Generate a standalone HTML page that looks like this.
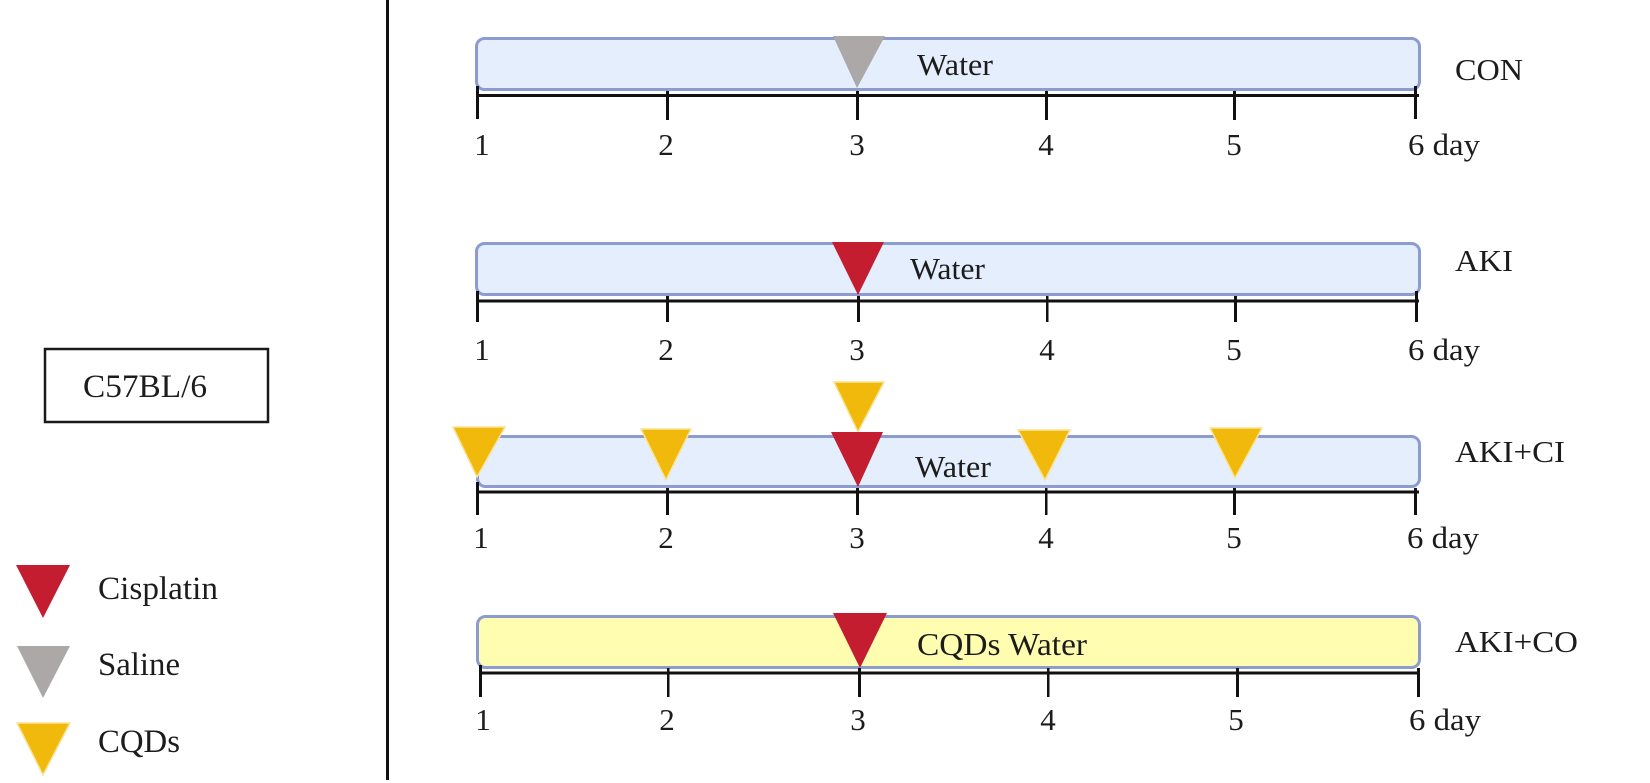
<!DOCTYPE html>
<html>
<head>
<meta charset="utf-8">
<style>
  html,body{margin:0;padding:0;background:#fff;}
  svg{display:block;}
  text{font-family:"Liberation Serif","Times New Roman",serif;fill:#1c1c1c;}
</style>
</head>
<body>
<svg width="1650" height="783" viewBox="0 0 1650 783" xmlns="http://www.w3.org/2000/svg">
  <!-- divider -->
  <rect x="386" y="0" width="3" height="780" fill="#111"/>

  <!-- C57BL/6 box -->
  <rect x="45" y="349" width="223" height="73" fill="#fff" stroke="#1a1a1a" stroke-width="2.5"/>
  <text x="83" y="397" font-size="33" textLength="124" lengthAdjust="spacingAndGlyphs">C57BL/6</text>

  <!-- Legend -->
  <polygon points="16,565 70,565 43,618" fill="#c41d30"/>
  <text x="98" y="599" font-size="33" textLength="120" lengthAdjust="spacingAndGlyphs">Cisplatin</text>
  <polygon points="17,646 70,646 43,698" fill="#aba8a7"/>
  <text x="98" y="675" font-size="33" textLength="82" lengthAdjust="spacingAndGlyphs">Saline</text>
  <polygon points="17,723 70,723 43,775" fill="#f0b90b" stroke="#f9e394" stroke-width="1.5"/>
  <text x="98" y="752" font-size="33" textLength="82" lengthAdjust="spacingAndGlyphs">CQDs</text>

  <!-- ROW 1: CON -->
  <rect x="476.5" y="38.5" width="943" height="51" rx="8" fill="#e4eefc" stroke="#8c9bd0" stroke-width="3"/>
  <rect x="476" y="94" width="943" height="3" fill="#111"/>
  <g fill="#111">
    <rect x="476" y="86" width="3" height="33"/>
    <rect x="666" y="91" width="3" height="29"/>
    <rect x="856" y="91" width="3" height="29"/>
    <rect x="1045" y="91" width="3" height="29"/>
    <rect x="1233" y="91" width="3" height="29"/>
    <rect x="1414" y="86" width="3" height="33"/>
  </g>
  <polygon points="833,36 885,36 857,88" fill="#aba8a7"/>
  <text x="917" y="75" font-size="31" textLength="76" lengthAdjust="spacingAndGlyphs">Water</text>
  <g font-size="31" text-anchor="middle">
    <text x="482" y="155">1</text>
    <text x="666" y="155">2</text>
    <text x="857" y="155">3</text>
    <text x="1046" y="155">4</text>
    <text x="1234" y="155">5</text>
  </g>
  <text x="1408" y="155" font-size="31" textLength="72" lengthAdjust="spacingAndGlyphs">6 day</text>
  <text x="1455" y="80" font-size="31" textLength="68" lengthAdjust="spacingAndGlyphs">CON</text>

  <!-- ROW 2: AKI -->
  <rect x="476.5" y="243.5" width="943" height="51" rx="8" fill="#e4eefc" stroke="#8c9bd0" stroke-width="3"/>
  <rect x="476" y="299.5" width="943" height="3" fill="#111"/>
  <g fill="#111">
    <rect x="476" y="291" width="3" height="31"/>
    <rect x="666" y="296" width="3" height="26"/>
    <rect x="857" y="296" width="3" height="26"/>
    <rect x="1046" y="296" width="2.5" height="26"/>
    <rect x="1234" y="296" width="3" height="26"/>
    <rect x="1415" y="291" width="3" height="31"/>
  </g>
  <polygon points="832,242 884,242 858,295" fill="#c41d30"/>
  <text x="910" y="279" font-size="31" textLength="75" lengthAdjust="spacingAndGlyphs">Water</text>
  <g font-size="31" text-anchor="middle">
    <text x="482" y="360">1</text>
    <text x="666" y="360">2</text>
    <text x="857" y="360">3</text>
    <text x="1047" y="360">4</text>
    <text x="1234" y="360">5</text>
  </g>
  <text x="1408" y="360" font-size="31" textLength="72" lengthAdjust="spacingAndGlyphs">6 day</text>
  <text x="1455" y="271" font-size="31" textLength="58" lengthAdjust="spacingAndGlyphs">AKI</text>

  <!-- ROW 3: AKI+CI -->
  <rect x="477.5" y="436.5" width="942" height="50" rx="8" fill="#e4eefc" stroke="#8c9bd0" stroke-width="3"/>
  <rect x="476" y="490.5" width="943" height="3" fill="#111"/>
  <g fill="#111">
    <rect x="476" y="482" width="3" height="33"/>
    <rect x="666" y="488" width="3" height="27"/>
    <rect x="856" y="488" width="3" height="27"/>
    <rect x="1045" y="488" width="2.5" height="27"/>
    <rect x="1233" y="488" width="3" height="27"/>
    <rect x="1414" y="488" width="3" height="27"/>
  </g>
  <text x="915" y="477" font-size="31" textLength="76" lengthAdjust="spacingAndGlyphs">Water</text>
  <polygon points="453,427 505,427 477,477" fill="#f0b90b" stroke="#f9e394" stroke-width="1.5"/>
  <polygon points="641,429 691,429 666,480" fill="#f0b90b" stroke="#f9e394" stroke-width="1.5"/>
  <polygon points="834,382 884,382 858,432" fill="#f0b90b" stroke="#f9e394" stroke-width="1.5"/>
  <polygon points="831,432 883,432 858,487" fill="#c41d30"/>
  <polygon points="1018,430 1070,430 1045,480" fill="#f0b90b" stroke="#f9e394" stroke-width="1.5"/>
  <polygon points="1210,428 1262,428 1235,478" fill="#f0b90b" stroke="#f9e394" stroke-width="1.5"/>
  <g font-size="31" text-anchor="middle">
    <text x="481" y="548">1</text>
    <text x="666" y="548">2</text>
    <text x="857" y="548">3</text>
    <text x="1046" y="548">4</text>
    <text x="1234" y="548">5</text>
  </g>
  <text x="1407" y="548" font-size="31" textLength="72" lengthAdjust="spacingAndGlyphs">6 day</text>
  <text x="1455" y="462" font-size="31" textLength="110" lengthAdjust="spacingAndGlyphs">AKI+CI</text>

  <!-- ROW 4: AKI+CO -->
  <rect x="477.5" y="616.5" width="942" height="51" rx="8" fill="#fefdb0" stroke="#8c9bd0" stroke-width="3"/>
  <rect x="479" y="671.5" width="941" height="3" fill="#111"/>
  <g fill="#111">
    <rect x="479" y="665" width="3" height="32"/>
    <rect x="667" y="668" width="2.5" height="29"/>
    <rect x="858" y="668" width="3" height="29"/>
    <rect x="1047" y="668" width="2.5" height="29"/>
    <rect x="1236" y="668" width="3" height="29"/>
    <rect x="1417" y="668" width="3" height="29"/>
  </g>
  <polygon points="833,613 887,613 860,668" fill="#c41d30"/>
  <text x="917" y="655" font-size="32" textLength="170" lengthAdjust="spacingAndGlyphs">CQDs Water</text>
  <g font-size="31" text-anchor="middle">
    <text x="483" y="730">1</text>
    <text x="667" y="730">2</text>
    <text x="858" y="730">3</text>
    <text x="1048" y="730">4</text>
    <text x="1236" y="730">5</text>
  </g>
  <text x="1409" y="730" font-size="31" textLength="72" lengthAdjust="spacingAndGlyphs">6 day</text>
  <text x="1455" y="652" font-size="31" textLength="123" lengthAdjust="spacingAndGlyphs">AKI+CO</text>
</svg>
</body>
</html>
